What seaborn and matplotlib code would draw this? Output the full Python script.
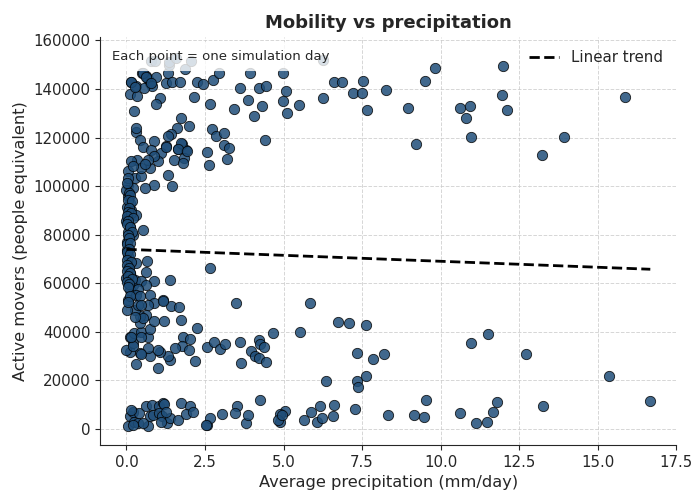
import numpy as np
import pandas as pd
import matplotlib
matplotlib.use("Agg")
import matplotlib.pyplot as plt
import seaborn as sns

# values, grouped by band
# high band (100k+)
precip_high = [0.16, 0.50, 0.61, 0.68, 0.74, 0.95, 0.82, 1.32, 1.35, 1.26, 1.44, 1.70, 1.87, 2.26, 2.44, 2.75, 2.94,
               3.63, 3.94, 4.21, 4.44, 4.97, 5.08, 0.10, 0.32, 0.34, 0.56, 2.15, 2.65, 1.08, 0.95, 0.24, 3.42, 3.87,
               4.33, 4.07, 4.97, 5.10, 1.74, 1.61, 1.98, 1.42, 1.32, 0.32, 0.42, 2.71, 2.86, 3.10, 4.42, 0.89, 1.26,
               1.63, 1.91, 1.77, 1.84, 2.56, 3.10, 3.25, 3.19, 2.63,
               5.50, 6.24, 6.60, 6.87, 7.20, 7.50, 7.54, 8.26, 7.66, 8.96, 9.20, 9.50, 9.83, 10.63, 10.80, 10.92,
               10.95, 11.95, 11.99, 12.12, 13.21, 13.94, 15.88,
               0.14, 0.26, 0.53, 0.63, 0.79, 0.32,
               0.79, 0.92, 1.34, 1.58, 2.05, 6.24]
movers_high = [143100, 146800, 145200, 144100, 142400, 144800, 141300, 146800, 150000, 142400, 143100, 142700, 148200,
               142700, 142000, 143800, 146800, 140400, 146800, 140400, 141300, 146600, 139000, 137900, 141300, 137200,
               140400, 136900, 133800, 136300, 133900, 131000, 131700, 135300, 133200, 129000, 134900, 130300, 128000,
               123900, 124900, 121600, 120500, 122500, 119100, 123500, 120800, 122100, 119100, 118700, 116600, 115300,
               115000, 117500, 111800, 114000, 117000, 115700, 111200, 108800,
               133500, 136500, 142900, 142900, 138300, 138300, 143400, 139700, 131500, 132000, 117500, 143400, 148600,
               132000, 128200, 133200, 120100, 137600, 149600, 131500, 112900, 120100, 136900,
               142700, 141000, 146600, 144900, 142400, 124100,
               151500, 151500, 151000, 152800, 151500, 152000]

# dry-day column and upper cluster near zero rain
precip_dry = [0.53, 0.77, 1.10, 1.26, 1.74, 1.65, 1.94, 1.53, 1.79, 1.32, 1.44, 0.89, 0.58, 0.74, 1.02, 0.87, 0.68,
              0.35, 0.14, 0.05, 0.26, 0.47, 0.45, 0.21, 0.58, 0.05, 0.21, 0.05, 0.10, 0.16, 0.32, 0.05, 0.00, 0.10,
              0.53, 0.05, 0.03, 0.00, 0.05,
              0.21, 0.03, 0.03, 0.05, 0.32, 0.66, 0.63, 0.05, 0.10, 0.00, 0.21, 0.16, 0.26, 0.47, 0.87, 0.63, 1.40,
              2.66, 0.10, 0.37, 0.32, 0.74, 0.05,
              0.02, 0.08, 0.12, 0.04, 0.18, 0.09, 0.05, 0.14, 0.01, 0.22, 0.06, 0.03, 0.11, 0.17, 0.04, 0.08, 0.01,
              0.13, 0.07, 0.02, 0.10, 0.01, 0.15, 0.03, 0.08, 0.02, 0.12, 0.04, 0.19, 0.01, 0.09, 0.06]
movers_dry = [116300, 115000, 113600, 116000, 117700, 115400, 114600, 110900, 109500, 104700, 99900, 100600, 99200,
              107500, 110500, 112600, 110900, 110900, 110500, 106100, 103300, 104000, 107500, 108500, 109100, 100600,
              99200, 95800, 93000, 90300, 88200, 87500, 85500, 83400, 82100, 81300, 91600, 98500, 103300,
              80000, 77200, 73800, 71100, 68300, 69000, 64500, 66300, 64200, 62200, 59400, 62800, 61500, 60800, 60800,
              59400, 61200, 66300, 57300, 57600, 55300, 55300, 53200,
              101500, 97000, 96400, 94200, 93800, 91200, 89200, 88900, 87700, 86800, 85600, 84400, 83200, 81000, 79900,
              78800, 76000, 76500, 74200, 73100, 72000, 69700, 68600, 67500, 66300, 65200, 64100, 63000, 61900, 60700,
              59600, 58400]

# middle band (~20k-57k)
precip_mid = [3.49, 2.26, 1.74, 1.42, 1.66, 1.18, 0.89, 1.21, 1.79, 2.02, 1.77, 1.98, 1.54, 2.19, 2.55, 2.80, 2.97,
              3.15, 3.63, 3.64, 3.97, 4.08, 4.21, 4.24, 4.39, 4.22, 4.44, 4.68, 0.99, 1.40, 1.32, 1.07, 0.74, 0.29,
              0.68, 0.42, 0.12, 0.21, 0.10, 0.23, 0.47, 0.68, 0.74, 0.42, 0.63, 0.42, 0.26, 0.03, 0.37, 0.68, 0.10,
              0.42, 0.05, 0.89, 0.53, 0.26, 0.47, 1.16, 0.00, 0.21, 0.16, 0.47, 1.00, 0.45,
              5.84, 5.52, 6.73, 7.08, 7.63, 7.34, 7.84, 8.19, 10.97, 11.50, 12.71,
              6.34, 7.34, 7.38, 7.63, 15.36]
movers_mid = [51900, 41600, 45000, 50500, 50200, 53200, 52100, 44300, 38100, 37100, 34300, 32600, 33300, 28200, 33800,
              35700, 32900, 35100, 35800, 27200, 32200, 30200, 36800, 35000, 33600, 29200, 27800, 39500, 25100, 28500,
              29900, 31900, 29900, 26900, 33300, 31300, 31900, 35400, 38100, 39500, 39800, 38100, 41200, 43600, 47100,
              46400, 49100, 49100, 51200, 51200, 54900, 54600, 52500, 44300, 45700, 46100, 51200, 52900, 32600, 34000,
              38100, 38100, 32600, 31000,
              51900, 39900, 43900, 43600, 42900, 31500, 28900, 30900, 35400, 39200, 30900,
              19600, 19600, 17500, 21700, 21900]

# low band (<12k)
precip_low = [5.05, 4.89, 4.89, 5.65, 5.86, 6.07, 6.17, 6.22, 6.57, 6.62, 7.29, 8.34, 9.15, 9.48, 9.54, 10.62, 11.11,
              11.49, 11.65, 11.78, 13.25, 16.67,
              0.05, 0.10, 0.21, 0.23, 0.37, 0.40, 0.63, 0.74, 0.68, 0.82, 0.86, 1.03, 1.05, 1.16, 1.14, 1.28, 1.39,
              1.63, 1.74, 2.03, 1.91, 2.12, 2.55, 2.65, 3.05, 3.52, 3.47, 3.81, 3.87, 4.24, 4.83, 4.94,
              0.16, 0.21, 0.53, 1.19, 1.26, 1.10, 2.52]
movers_low = [7500, 6300, 3100, 3800, 7200, 3100, 9700, 4500, 5500, 10000, 8400, 5900, 5900, 4800, 11800, 6800, 2700,
              3100, 7200, 11100, 9300, 11400,
              1100, 5200, 7200, 3100, 2700, 6600, 9300, 5200, 1100, 10000, 5900, 9600, 6600, 10700, 5200, 2500, 4500,
              3800, 10700, 9600, 6300, 7200, 1800, 4500, 6200, 9300, 6600, 2700, 5900, 11800, 3800, 5900,
              7900, 1800, 2500, 10400, 7000, 3100, 1500]

# linear trend endpoints
trend_precip = [0.0, 16.67]
trend_movers = [74000, 65800]

df = pd.DataFrame({
    "precip": precip_high + precip_dry + precip_mid + precip_low,
    "movers": movers_high + movers_dry + movers_mid + movers_low,
})
trend = pd.DataFrame({"precip": trend_precip, "movers": trend_movers})

sns.set_style("ticks")
fig, ax = plt.subplots(figsize=(6.91, 4.91), dpi=100)
sns.scatterplot(data=df, x="precip", y="movers", color="#1f4e79", alpha=0.85,
                s=55, edgecolor="black", linewidth=0.6, ax=ax, zorder=2)
sns.lineplot(data=trend, x="precip", y="movers", color="black", linestyle="--",
             linewidth=2, label="Linear trend", ax=ax, zorder=3)

ax.set_ylim(-6500, 161500)
ax.grid(True, linestyle="--", color="#cccccc", alpha=0.8, linewidth=0.7)
ax.set_axisbelow(True)
ax.set_title("Mobility vs precipitation", fontsize=13, fontweight="bold")
ax.set_xlabel("Average precipitation (mm/day)", fontsize=11.7)
ax.set_ylabel("Active movers (people equivalent)", fontsize=11.7)
ax.tick_params(labelsize=10.8)
ax.text(0.02, 0.968, "Each point = one simulation day", transform=ax.transAxes,
        fontsize=9.5, va="top", ha="left", zorder=5,
        bbox=dict(facecolor="white", alpha=0.8, edgecolor="none", pad=6))
ax.legend(loc="upper right", frameon=False, fontsize=10.8)
sns.despine(ax=ax)

fig.subplots_adjust(left=0.145, right=0.979, bottom=0.094, top=0.925)
fig.savefig("out.png", dpi=100)
